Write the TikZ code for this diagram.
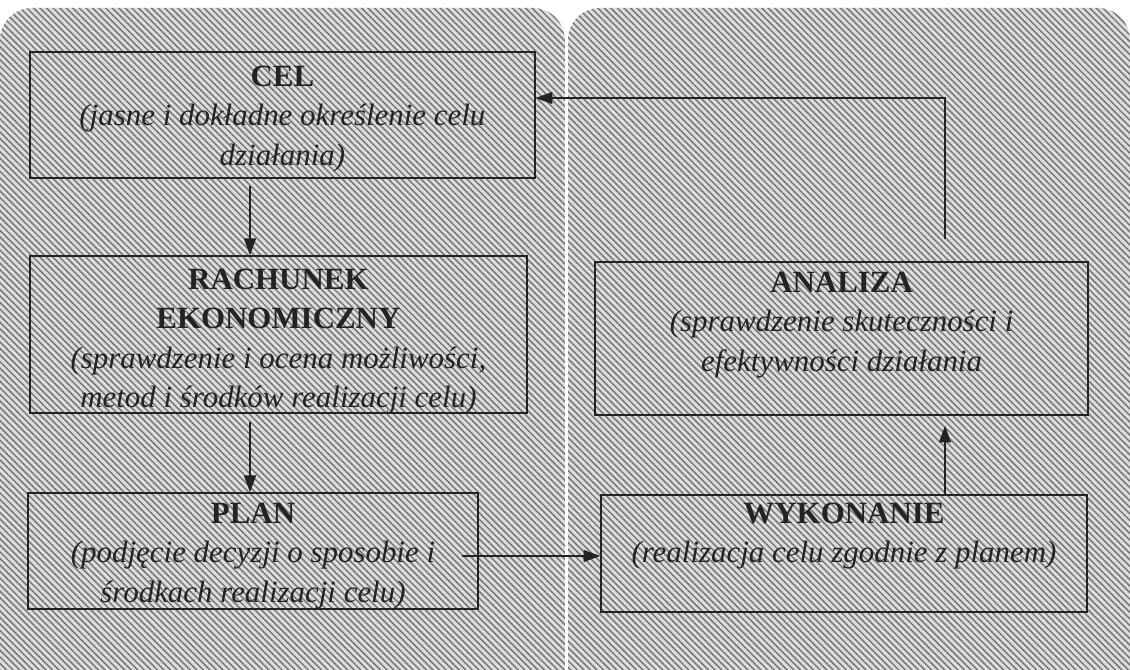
\documentclass[tikz,border=0pt]{standalone}
\usepackage{fontspec}
\setmainfont{Liberation Serif}
\usetikzlibrary{positioning,arrows.meta,patterns.meta}
\definecolor{hatchbg}{RGB}{222,222,222}
\definecolor{hatchln}{RGB}{120,120,120}
\definecolor{ink}{RGB}{35,35,35}
\begin{document}
\begin{tikzpicture}[line width=0.9pt,
  panel/.style={fill=hatchbg,rounded corners=0.8cm,postaction={pattern={Lines[angle=-45,distance=3.3pt,line width=1.1pt]},pattern color=hatchln}},
  box/.style={draw=ink,line width=1pt,inner sep=0pt},
  txt/.style={align=center,inner sep=0pt,text=ink,font=\fontsize{22}{28}\selectfont},
  arr/.style={draw=ink,-{Triangle[length=0.42cm,width=0.3cm]}}]
  \useasboundingbox (0,0) rectangle (28.25,16.75);
  \path[panel] (0,-1) rectangle (14.12,16.55);
  \path[panel] (14.2,-1) rectangle (28.25,16.55);
  \coordinate (turn) at (23.625,14.3);
  \coordinate (leftcol) at (6.25,0);
  \coordinate (planout) at (11.55,2.85);
  \node[box,minimum width=12.625cm,minimum height=3.15cm] (cel) at (7.06,13.875) {};
  \node[box,minimum width=12.425cm,minimum height=3.925cm] (rach) at (6.96,8.3875) {};
  \node[box,minimum width=11.25cm,minimum height=2.9cm] (plan) at (6.325,2.975) {};
  \node[box,minimum width=12.325cm,minimum height=3.825cm] (analiza) at (21.04,8.2875) {};
  \node[box,minimum width=12.15cm,minimum height=2.925cm] (wyk) at (21.1,2.9125) {};
  \node[txt,below=0.35cm of cel.north] (cel-t) {\textbf{CEL}\\\textit{(jasne i dokładne określenie celu}\\\textit{działania)}};
  \node[txt,below=0.33cm of rach.north] (rach-t) {\textbf{RACHUNEK}\\\textbf{EKONOMICZNY}\\\textit{(sprawdzenie i ocena możliwości,}\\\textit{metod i środków realizacji celu)}};
  \node[txt,below=0.25cm of plan.north] (plan-t) {\textbf{PLAN}\\\textit{(podjęcie decyzji o sposobie i}\\\textit{środkach realizacji celu)}};
  \node[txt,below=0.25cm of analiza.north] (analiza-t) {\textbf{ANALIZA}\\\textit{(sprawdzenie skuteczności i}\\\textit{efektywności działania}};
  \node[txt,below=0.2cm of wyk.north] (wyk-t) {\textbf{WYKONANIE}\\\textit{(realizacja celu zgodnie z planem)}};
  \draw[arr,shorten <=0.18cm] (cel.south -| leftcol) -- (rach.north -| leftcol);
  \draw[arr,shorten <=0.2cm] (rach.south -| leftcol) -- (plan.north -| leftcol);
  \draw[arr] (planout) -- (planout -| wyk.west);
  \draw[arr,shorten >=0.25cm] (wyk.north -| turn) -- (analiza.south -| turn);
  \draw[arr,shorten <=0.55cm] (analiza.north -| turn) -- (turn) -- (turn -| cel.east);
\end{tikzpicture}
\end{document}
